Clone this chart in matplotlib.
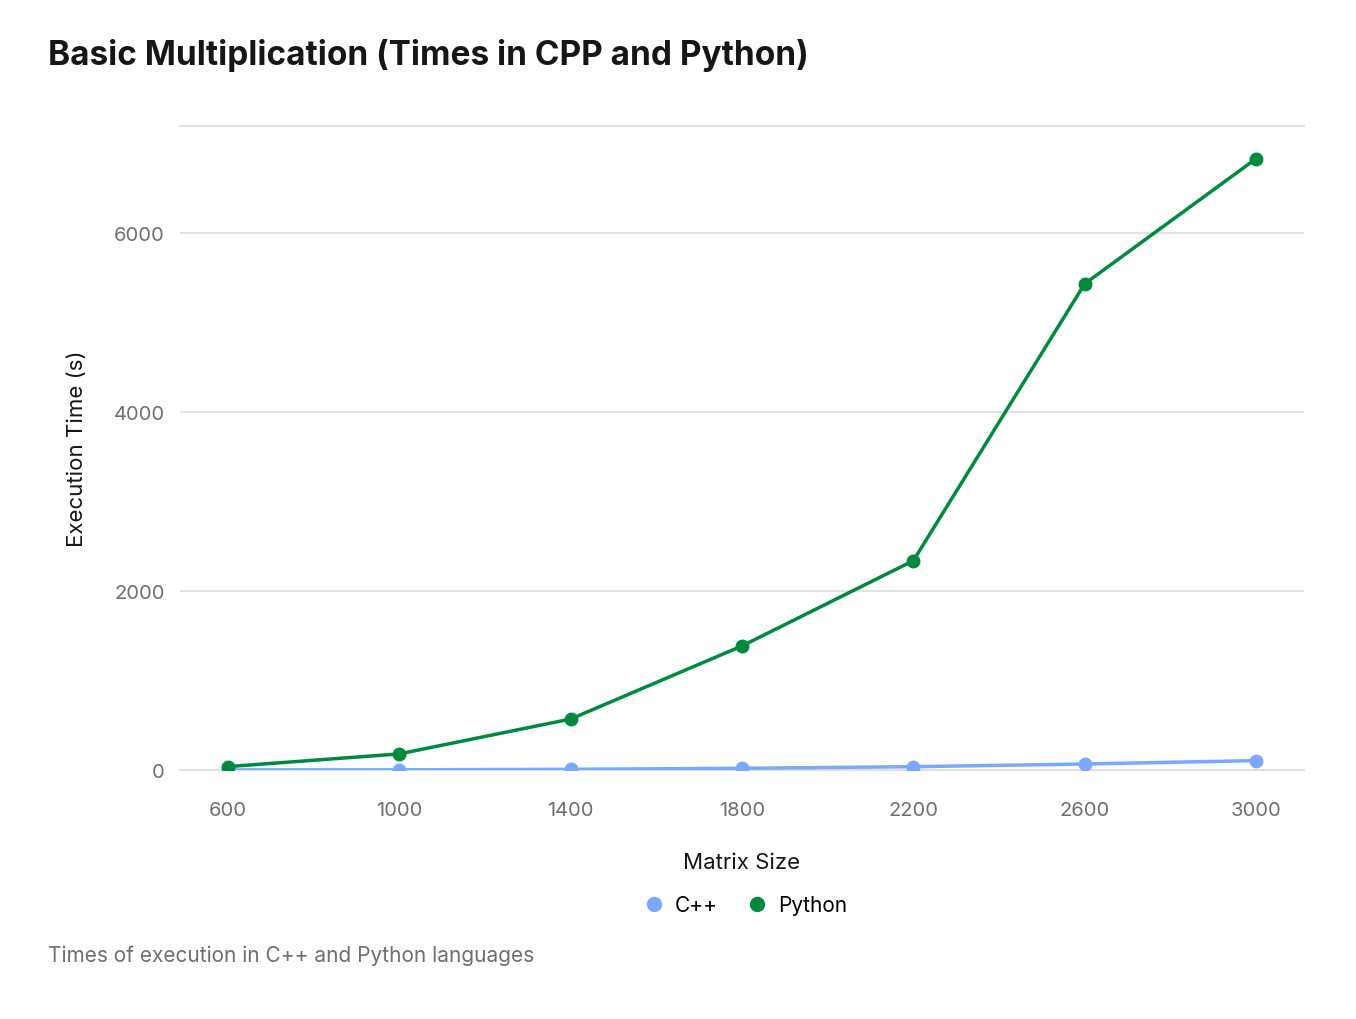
import matplotlib
matplotlib.use("Agg")
import matplotlib.pyplot as plt
from matplotlib.lines import Line2D

matrix_sizes = [600, 1000, 1400, 1800, 2200, 2600, 3000]
cpp_times = [1, 2, 8, 19, 37, 67, 105]
python_times = [38, 180, 570, 1387, 2340, 5436, 6834]
y_ticks = [0, 2000, 4000, 6000]
x_ticks = [600, 1000, 1400, 1800, 2200, 2600, 3000]

FONT = ["Inter", "DejaVu Sans"]
plt.rcParams['font.family'] = FONT

W, H = 1356, 1020
fig = plt.figure(figsize=(W / 100, H / 100), dpi=100)
ax = fig.add_axes([180 / W, 1 - 771 / H, (1304 - 180) / W, (771 - 127) / H])

cpp_color = "#78a9ff"
py_color = "#008a3e"

ax.plot(matrix_sizes, cpp_times, color=cpp_color, lw=2.5, marker="o", ms=9, zorder=3)
ax.plot(matrix_sizes, python_times, color=py_color, lw=2.5, marker="o", ms=9, zorder=4)

ax.set_xlim(488, 3112)
ax.set_ylim(0, 7200)
ax.set_xticks(x_ticks)
ax.set_yticks(y_ticks)
ax.set_xticklabels([str(v) for v in x_ticks])
ax.set_yticklabels([str(v) for v in y_ticks])
ax.grid(axis="y", color="#e0e0e0", lw=1.3)
ax.axhline(7200, color="#e0e0e0", lw=1.5, clip_on=False)
ax.set_axisbelow(True)
for s in ["top", "right", "left"]:
    ax.spines[s].set_visible(False)
ax.spines["bottom"].set_color("#e0e0e0")
ax.spines["bottom"].set_linewidth(1.5)
ax.tick_params(axis="both", length=0, labelsize=14.5, labelcolor="#6f6f6f")
ax.tick_params(axis="x", pad=22)
ax.tick_params(axis="y", pad=11)

ax.set_xlabel("Matrix Size", fontsize=16, color="#161616", labelpad=24)
ax.set_ylabel("Execution Time (s)", fontsize=16, color="#161616", labelpad=19)

fig.text(48 / W, 1 - 56 / H, "Basic Multiplication (Times in CPP and Python)",
         fontsize=24, fontweight="bold", color="#161616", va="center", ha="left")
fig.text(48 / W, 1 - 956 / H, "Times of execution in C++ and Python languages",
         fontsize=15, color="#6f6f6f", va="center", ha="left")

handles = [Line2D([], [], ls="none", marker="o", ms=10, color=cpp_color),
           Line2D([], [], ls="none", marker="o", ms=10, color=py_color)]
fig.legend(handles, ["C++", "Python"], loc="center", bbox_to_anchor=(745 / W, 1 - 906 / H),
           ncol=2, frameon=False, fontsize=15, handletextpad=0.5, columnspacing=1.4,
           handlelength=1.0)

fig.savefig("out.png", dpi=100)
